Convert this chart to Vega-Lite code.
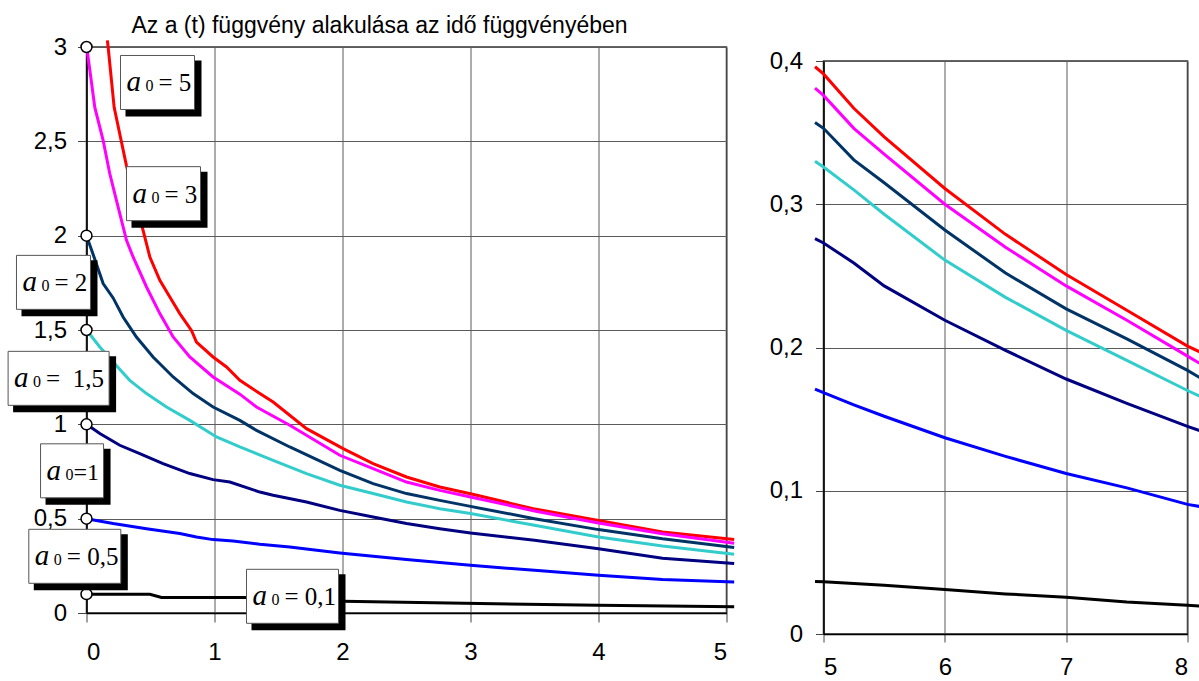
{
"$schema": "https://vega.github.io/schema/vega-lite/v6.json",
"background": "white",
"padding": {"left": 4.5, "top": 14, "right": 0, "bottom": 0},
"spacing": 26,
"config": {
  "view": {"stroke": "#333", "strokeWidth": 1.5},
  "axis": {"labelFont": "Liberation Sans", "labelFontSize": 24, "labelColor": "black", "grid": true, "gridColor": "#5a5a5a", "gridWidth": 1, "tickColor": "#444", "tickWidth": 1, "tickSize": 9, "domainColor": "black", "domainWidth": 1.5, "title": null, "labelExpr": "replace(format(datum.value, '~g'), '.', ',')"}
},
"datasets": {
  "L": [
    {"k":"5","t":0.163,"a":3.035},{"k":"5","t":0.169,"a":3.0},{"k":"5","t":0.216,"a":2.68},{"k":"5","t":0.3125,"a":2.37},{"k":"5","t":0.442,"a":2.028},{"k":"5","t":0.495,"a":1.887},{"k":"5","t":0.573,"a":1.763},{"k":"5","t":0.651,"a":1.675},{"k":"5","t":0.729,"a":1.587},{"k":"5","t":0.82,"a":1.498},{"k":"5","t":0.859,"a":1.436},{"k":"5","t":0.989,"a":1.357},{"k":"5","t":1.094,"a":1.304},{"k":"5","t":1.198,"a":1.233},{"k":"5","t":1.354,"a":1.163},{"k":"5","t":1.458,"a":1.118},{"k":"5","t":1.719,"a":0.977},{"k":"5","t":2.005,"a":0.871},{"k":"5","t":2.239,"a":0.792},{"k":"5","t":2.5,"a":0.721},{"k":"5","t":2.76,"a":0.668},{"k":"5","t":3.0,"a":0.632},{"k":"5","t":3.49,"a":0.553},{"k":"5","t":4.0,"a":0.491},{"k":"5","t":4.5,"a":0.429},{"k":"5","t":5.06,"a":0.389},
    {"k":"3","t":0,"a":3.0},{"k":"3","t":0.0125,"a":2.946},{"k":"3","t":0.065,"a":2.68},{"k":"3","t":0.13,"a":2.505},{"k":"3","t":0.182,"a":2.328},{"k":"3","t":0.234,"a":2.187},{"k":"3","t":0.3125,"a":1.975},{"k":"3","t":0.364,"a":1.887},{"k":"3","t":0.469,"a":1.728},{"k":"3","t":0.573,"a":1.587},{"k":"3","t":0.677,"a":1.463},{"k":"3","t":0.807,"a":1.357},{"k":"3","t":0.989,"a":1.251},{"k":"3","t":1.198,"a":1.16},{"k":"3","t":1.328,"a":1.092},{"k":"3","t":1.588,"a":0.995},{"k":"3","t":1.979,"a":0.836},{"k":"3","t":2.239,"a":0.765},{"k":"3","t":2.5,"a":0.694},{"k":"3","t":2.76,"a":0.65},{"k":"3","t":3.0,"a":0.615},{"k":"3","t":3.5,"a":0.541},{"k":"3","t":4.0,"a":0.477},{"k":"3","t":4.5,"a":0.42},{"k":"3","t":5.06,"a":0.37},
    {"k":"2","t":0,"a":2.0},{"k":"2","t":0.052,"a":1.9},{"k":"2","t":0.13,"a":1.746},{"k":"2","t":0.208,"a":1.67},{"k":"2","t":0.286,"a":1.569},{"k":"2","t":0.39,"a":1.463},{"k":"2","t":0.52,"a":1.357},{"k":"2","t":0.677,"a":1.251},{"k":"2","t":0.833,"a":1.163},{"k":"2","t":0.989,"a":1.092},{"k":"2","t":1.198,"a":1.021},{"k":"2","t":1.328,"a":0.968},{"k":"2","t":1.588,"a":0.88},{"k":"2","t":1.979,"a":0.756},{"k":"2","t":2.239,"a":0.686},{"k":"2","t":2.5,"a":0.633},{"k":"2","t":2.76,"a":0.597},{"k":"2","t":3.0,"a":0.565},{"k":"2","t":3.5,"a":0.5},{"k":"2","t":4.0,"a":0.442},{"k":"2","t":4.5,"a":0.393},{"k":"2","t":5.06,"a":0.347},
    {"k":"1,5","t":0,"a":1.5},{"k":"1,5","t":0.104,"a":1.41},{"k":"1,5","t":0.208,"a":1.33},{"k":"1,5","t":0.338,"a":1.233},{"k":"1,5","t":0.469,"a":1.163},{"k":"1,5","t":0.625,"a":1.092},{"k":"1,5","t":0.807,"a":1.021},{"k":"1,5","t":1.016,"a":0.933},{"k":"1,5","t":1.198,"a":0.88},{"k":"1,5","t":1.458,"a":0.809},{"k":"1,5","t":1.719,"a":0.739},{"k":"1,5","t":1.979,"a":0.677},{"k":"1,5","t":2.239,"a":0.633},{"k":"1,5","t":2.5,"a":0.588},{"k":"1,5","t":2.76,"a":0.553},{"k":"1,5","t":3.0,"a":0.527},{"k":"1,5","t":3.5,"a":0.465},{"k":"1,5","t":4.0,"a":0.403},{"k":"1,5","t":4.5,"a":0.355},{"k":"1,5","t":5.06,"a":0.311},
    {"k":"1","t":0,"a":1.0},{"k":"1","t":0.104,"a":0.951},{"k":"1","t":0.26,"a":0.889},{"k":"1","t":0.416,"a":0.845},{"k":"1","t":0.598,"a":0.792},{"k":"1","t":0.807,"a":0.739},{"k":"1","t":0.989,"a":0.707},{"k":"1","t":1.12,"a":0.694},{"k":"1","t":1.354,"a":0.641},{"k":"1","t":1.458,"a":0.624},{"k":"1","t":1.719,"a":0.588},{"k":"1","t":1.979,"a":0.544},{"k":"1","t":2.239,"a":0.509},{"k":"1","t":2.5,"a":0.474},{"k":"1","t":2.76,"a":0.447},{"k":"1","t":3.0,"a":0.424},{"k":"1","t":3.5,"a":0.385},{"k":"1","t":4.0,"a":0.341},{"k":"1","t":4.5,"a":0.29},{"k":"1","t":5.06,"a":0.262},
    {"k":"0,5","t":0,"a":0.5},{"k":"0,5","t":0.208,"a":0.474},{"k":"0,5","t":0.469,"a":0.447},{"k":"0,5","t":0.729,"a":0.421},{"k":"0,5","t":0.859,"a":0.403},{"k":"0,5","t":0.989,"a":0.389},{"k":"0,5","t":1.145,"a":0.382},{"k":"0,5","t":1.354,"a":0.364},{"k":"0,5","t":1.588,"a":0.35},{"k":"0,5","t":1.979,"a":0.318},{"k":"0,5","t":2.5,"a":0.283},{"k":"0,5","t":3.0,"a":0.253},{"k":"0,5","t":3.5,"a":0.226},{"k":"0,5","t":4.0,"a":0.2},{"k":"0,5","t":4.5,"a":0.177},{"k":"0,5","t":5.06,"a":0.164},
    {"k":"0,1","t":0,"a":0.099},{"k":"0,1","t":0.495,"a":0.099},{"k":"0,1","t":0.586,"a":0.082},{"k":"0,1","t":1.25,"a":0.082},{"k":"0,1","t":1.6,"a":0.07},{"k":"0,1","t":2.0,"a":0.062},{"k":"0,1","t":3.07,"a":0.05},{"k":"0,1","t":4.0,"a":0.041},{"k":"0,1","t":5.06,"a":0.033}
  ],
  "R": [
    {"k":"5","t":4.93,"a":0.396},{"k":"5","t":5,"a":0.391},{"k":"5","t":5.25,"a":0.367},{"k":"5","t":5.5,"a":0.347},{"k":"5","t":6,"a":0.311},{"k":"5","t":6.5,"a":0.279},{"k":"5","t":7,"a":0.251},{"k":"5","t":7.5,"a":0.226},{"k":"5","t":8,"a":0.201},{"k":"5","t":8.1,"a":0.197},
    {"k":"3","t":4.93,"a":0.381},{"k":"3","t":5,"a":0.376},{"k":"3","t":5.25,"a":0.353},{"k":"3","t":5.5,"a":0.335},{"k":"3","t":6,"a":0.300},{"k":"3","t":6.5,"a":0.270},{"k":"3","t":7,"a":0.243},{"k":"3","t":7.5,"a":0.219},{"k":"3","t":8,"a":0.194},{"k":"3","t":8.1,"a":0.189},
    {"k":"2","t":4.93,"a":0.357},{"k":"2","t":5,"a":0.353},{"k":"2","t":5.25,"a":0.331},{"k":"2","t":5.5,"a":0.315},{"k":"2","t":6,"a":0.282},{"k":"2","t":6.5,"a":0.252},{"k":"2","t":7,"a":0.227},{"k":"2","t":7.5,"a":0.206},{"k":"2","t":8,"a":0.184},{"k":"2","t":8.1,"a":0.179},
    {"k":"1,5","t":4.93,"a":0.330},{"k":"1,5","t":5,"a":0.326},{"k":"1,5","t":5.25,"a":0.310},{"k":"1,5","t":5.5,"a":0.293},{"k":"1,5","t":6,"a":0.261},{"k":"1,5","t":6.5,"a":0.235},{"k":"1,5","t":7,"a":0.212},{"k":"1,5","t":7.5,"a":0.191},{"k":"1,5","t":8,"a":0.170},{"k":"1,5","t":8.1,"a":0.166},
    {"k":"1","t":4.93,"a":0.276},{"k":"1","t":5,"a":0.273},{"k":"1","t":5.25,"a":0.259},{"k":"1","t":5.5,"a":0.243},{"k":"1","t":6,"a":0.219},{"k":"1","t":6.5,"a":0.198},{"k":"1","t":7,"a":0.178},{"k":"1","t":7.5,"a":0.161},{"k":"1","t":8,"a":0.145},{"k":"1","t":8.1,"a":0.142},
    {"k":"0,5","t":4.93,"a":0.171},{"k":"0,5","t":5,"a":0.1685},{"k":"0,5","t":5.25,"a":0.160},{"k":"0,5","t":5.5,"a":0.152},{"k":"0,5","t":6,"a":0.137},{"k":"0,5","t":6.5,"a":0.124},{"k":"0,5","t":7,"a":0.112},{"k":"0,5","t":7.5,"a":0.102},{"k":"0,5","t":8,"a":0.0905},{"k":"0,5","t":8.1,"a":0.089},
    {"k":"0,1","t":4.93,"a":0.0367},{"k":"0,1","t":5,"a":0.0364},{"k":"0,1","t":5.5,"a":0.034},{"k":"0,1","t":6,"a":0.031},{"k":"0,1","t":6.5,"a":0.028},{"k":"0,1","t":7,"a":0.0257},{"k":"0,1","t":7.5,"a":0.0224},{"k":"0,1","t":8,"a":0.0201},{"k":"0,1","t":8.1,"a":0.0195}
  ],
  "B": [
    {"k":"5","t":0.2656,"a":2.812,"rest":"= 5"},
    {"k":"3","t":0.3125,"a":2.2226,"rest":"= 3"},
    {"k":"2","t":-0.547,"a":1.7525,"rest":"= 2"},
    {"k":"1,5","t":-0.6125,"a":1.2438,"rest":"= \u00a01,5"},
    {"k":"1","t":-0.359,"a":0.7536,"rest":"=1"},
    {"k":"0,5","t":-0.4508,"a":0.3005,"rest":"= 0,5"},
    {"k":"0,1","t":1.25,"a":0.0885,"rest":"= 0,1"}
  ],
  "C": [
    {"t":0,"a":3},{"t":0,"a":2},{"t":0,"a":1.5},{"t":0,"a":1},{"t":0,"a":0.5},{"t":0,"a":0.1}
  ]
},
"hconcat": [
  {
    "width": 640, "height": 566,
    "title": {"text": "Az a (t) függvény alakulása az idő függvényében", "font": "Liberation Sans", "fontSize": 23, "fontWeight": "normal", "color": "black", "anchor": "middle", "frame": "group", "dx": -27, "offset": -4},
    "encoding": {
      "x": {"field": "t", "type": "quantitative", "scale": {"domain": [0, 5], "nice": false, "zero": false}, "axis": {"values": [0,1,2,3,4,5], "labelPadding": 18}},
      "y": {"field": "a", "type": "quantitative", "scale": {"domain": [0, 3], "nice": false, "zero": false}, "axis": {"values": [0,0.5,1,1.5,2,2.5,3], "labelPadding": 11}}
    },
    "layer": [
      {
        "data": {"name": "L"},
        "mark": {"type": "line", "strokeWidth": 3, "clip": false},
        "encoding": {"color": {"field": "k", "type": "nominal", "scale": {"domain": ["5","3","2","1,5","1","0,5","0,1"], "range": ["#FF0000","#FF00FF","#003366","#33CCCC","#000080","#0000FF","#000000"]}, "legend": null}}
      },
      {
        "data": {"name": "C"},
        "mark": {"type": "point", "shape": "circle", "size": 120, "filled": true, "fill": "white", "stroke": "black", "strokeWidth": 1.5, "opacity": 1, "clip": false},
        "encoding": {}
      },
      {
        "data": {"name": "B"},
        "mark": {"type": "point", "size": 4, "filled": true, "fill": "black", "strokeWidth": 0, "opacity": 1, "clip": false},
        "encoding": {"shape": {"field": "k", "type": "nominal", "scale": {"domain": ["5","3","2","1,5","1","0,5","0,1"], "range": ["M5,-22H81V34H5Z","M5,-22H81V34H5Z","M5,-22H81V34H5Z","M5,-22H108V34H5Z","M5,-22H70V34H5Z","M5,-22H99V34H5Z","M5,-22H99V34H5Z"]}, "legend": null}}
      },
      {
        "data": {"name": "B"},
        "mark": {"type": "point", "size": 4, "filled": true, "fill": "white", "stroke": "#555", "strokeWidth": 1, "opacity": 1, "clip": false},
        "encoding": {"shape": {"field": "k", "type": "nominal", "scale": {"domain": ["5","3","2","1,5","1","0,5","0,1"], "range": ["M0,-27H74V27H0Z","M0,-27H74V27H0Z","M0,-27H74V27H0Z","M0,-27H101V27H0Z","M0,-27H63V27H0Z","M0,-27H92V27H0Z","M0,-27H92V27H0Z"]}, "legend": null}}
      },
      {
        "data": {"name": "B"},
        "mark": {"type": "text", "font": "Liberation Serif", "fontStyle": "italic", "fontSize": 29, "align": "left", "baseline": "alphabetic", "dx": 6, "dy": 9, "color": "black", "clip": false},
        "encoding": {"text": {"value": "a"}}
      },
      {
        "data": {"name": "B"},
        "mark": {"type": "text", "font": "Liberation Serif", "fontSize": 16, "align": "left", "baseline": "alphabetic", "dx": 25, "dy": 9, "color": "black", "clip": false},
        "encoding": {"text": {"value": "0"}}
      },
      {
        "data": {"name": "B"},
        "transform": [{"filter": "datum.k != '1'"}],
        "mark": {"type": "text", "font": "Liberation Serif", "fontSize": 25, "align": "left", "baseline": "alphabetic", "dx": 38, "dy": 9, "color": "black", "clip": false},
        "encoding": {"text": {"field": "rest", "type": "nominal"}}
      },
      {
        "data": {"name": "B"},
        "transform": [{"filter": "datum.k == '1'"}],
        "mark": {"type": "text", "font": "Liberation Serif", "fontSize": 24, "align": "left", "baseline": "alphabetic", "dx": 33, "dy": 9, "color": "black", "clip": false},
        "encoding": {"text": {"field": "rest", "type": "nominal"}}
      }
    ],
    "resolve": {"scale": {"shape": "independent"}}
  },
  {
    "spacing": 0,
    "vconcat": [
      {
        "width": 364, "height": 1,
        "view": {"stroke": null},
        "data": {"values": []},
        "mark": {"type": "rule"},
        "encoding": {}
      },
      {
        "width": 364, "height": 573,
        "data": {"name": "R"},
        "mark": {"type": "line", "strokeWidth": 3, "clip": false},
        "encoding": {
          "x": {"field": "t", "type": "quantitative", "scale": {"domain": [5, 8], "nice": false, "zero": false}, "axis": {"values": [5,6,7,8], "labelPadding": 13, "tickSize": 8}},
          "y": {"field": "a", "type": "quantitative", "scale": {"domain": [0, 0.4], "nice": false, "zero": false}, "axis": {"values": [0,0.1,0.2,0.3,0.4], "labelPadding": 13, "tickSize": 8}},
          "color": {"field": "k", "type": "nominal", "scale": {"domain": ["5","3","2","1,5","1","0,5","0,1"], "range": ["#FF0000","#FF00FF","#003366","#33CCCC","#000080","#0000FF","#000000"]}, "legend": null}
        }
      }
    ]
  }
]
}
